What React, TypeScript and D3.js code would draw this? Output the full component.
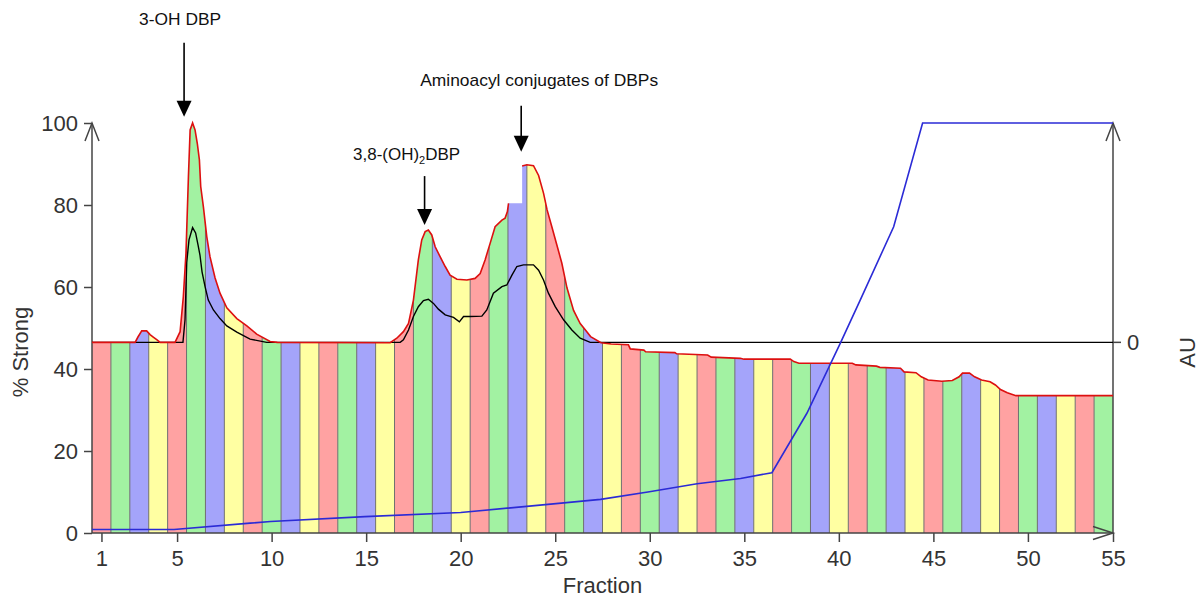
import { useEffect, useRef } from 'react';
import * as d3 from 'd3';

type Pt = [number, number];

// fraction numbers, one coloured band each
const fractions = [
  1, 2, 3, 4, 5, 6, 7, 8, 9, 10, 11, 12, 13, 14, 15, 16, 17, 18, 19, 20, 21, 22, 23, 24, 25, 26, 27,
  28, 29, 30, 31, 32, 33, 34, 35, 36, 37, 38, 39, 40, 41, 42, 43, 44, 45, 46, 47, 48, 49, 50, 51, 52, 53, 54,
];
const bandColors = ['#ffa2a2', '#a2f2a2', '#a4a4fa', '#ffffa2'];

const xTickValues = [1, 5, 10, 15, 20, 25, 30, 35, 40, 45, 50];
const xEndLabel = '55';
const yTickValues = [0, 20, 40, 60, 80, 100];
const auZeroLabel = '0';

// UV trace (red), [fraction, value on the left scale]; broken at the top of fraction 23
const uvRise: Pt[] = [
  [0.5, 46.5], [2.78, 46.5], [2.93, 47.8], [3.13, 49.3], [3.39, 49.3], [3.57, 48.4], [3.74, 47.8],
  [3.94, 47.1], [4.1, 46.5], [4.89, 46.5], [5.16, 49.1], [5.33, 57.6], [5.47, 68.2], [5.6, 86.9],
  [5.69, 98.3], [5.82, 100], [5.95, 98.3], [6.07, 95.0], [6.18, 91.0], [6.25, 84.5], [6.39, 79.6],
  [6.57, 72.3], [6.74, 67.4], [7.01, 62.2], [7.27, 58.5], [7.63, 54.9], [8.16, 52.3], [8.69, 50.5],
  [9.21, 48.5], [9.92, 46.7], [10.3, 46.5], [16.27, 46.4], [16.62, 47.5], [16.97, 49.1], [17.24, 51.1],
  [17.5, 56.8], [17.76, 66.6], [17.94, 71.5], [18.12, 73.5], [18.29, 73.9], [18.47, 72.7], [18.65, 69.8],
  [18.91, 67.4], [19.18, 65.0], [19.44, 62.9], [19.8, 61.9], [20.33, 61.7], [20.76, 62.1], [21.03, 63.3],
  [21.29, 66.6], [21.56, 70.7], [21.82, 74.7], [22.18, 76.3], [22.35, 76.8], [22.47, 78.4], [22.53, 80.4],
];
const uvFall: Pt[] = [
  [23.25, 89.5], [23.5, 89.8], [23.85, 89.6], [24.12, 87.2], [24.38, 82.9], [24.57, 78.8], [24.82, 74.7],
  [25.09, 70.2], [25.35, 65.8], [25.62, 59.8], [25.97, 54.3], [26.32, 51.1], [26.67, 49.1], [26.87, 47.9],
  [27.42, 46.4], [27.96, 46.1], [28.87, 45.9], [28.97, 44.9], [29.69, 44.6], [29.78, 44.2], [31.33, 44.0],
  [31.42, 43.7], [33.06, 43.4], [33.25, 42.9], [34.79, 42.6], [34.98, 42.4], [37.43, 42.4], [37.62, 41.8],
  [37.89, 41.4], [40.71, 41.4], [40.9, 41.0], [41.99, 40.7], [42.17, 40.4], [43.26, 40.2], [43.45, 39.3],
  [44.08, 39.1], [44.36, 38.1], [44.72, 37.3], [45.45, 37.0], [46.0, 37.2], [46.36, 38.1], [46.54, 39.0],
  [46.91, 39.0], [47.18, 38.1], [47.55, 37.3], [48.0, 36.9], [48.28, 36.1], [48.55, 35.0], [48.91, 34.2],
  [49.37, 33.5], [54.5, 33.5],
];

// second detector trace (black); its flat part is the 0 AU line
const secondTrace: Pt[] = [
  [0.5, 46.5], [5.31, 46.5], [5.42, 52], [5.51, 66], [5.63, 71.5], [5.82, 74.5], [5.98, 73.2], [6.11, 70.2],
  [6.21, 67.8], [6.32, 63.7], [6.48, 60.1], [6.65, 56.8], [6.92, 54.4], [7.27, 52.3], [7.63, 50.5],
  [8.16, 49.0], [8.86, 47.3], [9.74, 46.5], [16.8, 46.5], [16.97, 47.1], [17.24, 49.5], [17.5, 52.8],
  [17.76, 55.2], [18.03, 56.7], [18.29, 57.0], [18.56, 56.0], [18.82, 54.6], [19.18, 53.2], [19.62, 52.6],
  [19.93, 51.5], [20.15, 52.8], [20.5, 52.8], [21.12, 52.9], [21.38, 54.4], [21.73, 58.5], [22.18, 60.1],
  [22.44, 60.5], [22.71, 62.9], [22.97, 65.0], [23.32, 65.4], [23.85, 65.4], [24.12, 64.1], [24.38, 61.7],
  [24.64, 58.5], [25.0, 55.2], [25.44, 52.0], [25.88, 49.5], [26.32, 47.5], [26.85, 46.5], [54.5, 46.5],
];

// buffer gradient (blue), % Strong
const gradient: Pt[] = [
  [0.5, 0.85], [4.84, 0.85], [8.86, 2.4], [9.94, 2.8], [14.93, 4.0], [20.0, 5.0], [24.9, 7.1], [27.4, 8.2],
  [29.9, 10.0], [32.5, 12.0], [34.8, 13.3], [36.46, 14.7], [38.31, 29.2], [40.08, 46.3], [41.13, 56.8],
  [42.9, 74.7], [44.43, 100], [54.5, 100],
];

const annotations = [
  { parts: [['3-OH DBP', false]], fraction: 5.37, tip: 101.5 },
  { parts: [['3,8-(OH)', false], ['2', true], ['DBP', false]], fraction: 18.09, tip: 75.1 },
  { parts: [['Aminoacyl conjugates of DBPs', false]], fraction: 23.2, tip: 93.0 },
];

const yLabel = '% Strong';
const xLabel = 'Fraction';
const auLabel = 'AU';

export default function App() {
  const ref = useRef<SVGSVGElement>(null);

  useEffect(() => {
    const svg = d3.select(ref.current);
    svg.selectAll('*').remove();

    const font = "'Liberation Sans', Arial, sans-serif";
    const axisColor = '#444';
    const textColor = '#333';

    const x = d3.scaleLinear()
      .domain([fractions[0] - 0.5, fractions[fractions.length - 1] + 0.5])
      .range([92, 1113]);
    const y = d3.scaleLinear().domain([0, 100]).range([533, 123]);
    const [x0, x1] = x.range();
    const [yb, yt] = y.range();

    // Coloured fraction bands, clipped to the area under the UV trace
    const last = uvRise[uvRise.length - 1];
    const fillPts: Pt[] = [...uvRise, [uvFall[0][0], last[1]], ...uvFall];
    const area = d3.area<Pt>().x(d => x(d[0])).y0(yb).y1(d => y(d[1]));
    svg.append('defs').append('clipPath').attr('id', 'uv-clip')
      .append('path').attr('d', area(fillPts));

    const bands = svg.append('g').attr('clip-path', 'url(#uv-clip)');
    fractions.forEach((f, i) => {
      bands.append('rect')
        .attr('x', x(f - 0.5)).attr('y', yt)
        .attr('width', x(f + 0.5) - x(f - 0.5)).attr('height', yb - yt)
        .attr('fill', bandColors[i % bandColors.length]);
    });
    fractions.slice(0, -1).forEach(f => {
      bands.append('line')
        .attr('x1', x(f + 0.5)).attr('x2', x(f + 0.5)).attr('y1', yt).attr('y2', yb)
        .attr('stroke', '#6f6f6f').attr('stroke-width', 1);
    });

    // Axes
    const gy = svg.append('g').attr('transform', `translate(${x0},0)`)
      .call(d3.axisLeft(y).tickValues(yTickValues).tickSize(8).tickPadding(6));
    gy.select('.domain').remove();
    gy.selectAll('line').attr('stroke', axisColor).attr('stroke-width', 1.5);
    gy.selectAll('text').attr('font-size', 22).attr('font-family', font).attr('fill', textColor);

    const gx = svg.append('g').attr('transform', `translate(0,${yb})`)
      .call(d3.axisBottom(x).tickValues([...xTickValues, x.domain()[1]]).tickSize(9).tickPadding(8)
        .tickFormat((d, i) => (i === xTickValues.length ? xEndLabel : String(d))));
    gx.select('.domain').remove();
    gx.selectAll('line').attr('stroke', axisColor).attr('stroke-width', 1.5);
    gx.selectAll('text').attr('font-size', 22).attr('font-family', font).attr('fill', textColor);

    const axes = svg.append('g').attr('fill', 'none').attr('stroke', axisColor).attr('stroke-width', 1.5);
    axes.append('line').attr('x1', x0).attr('x2', x0).attr('y1', yb).attr('y2', yt);
    axes.append('line').attr('x1', x1).attr('x2', x1).attr('y1', yb).attr('y2', yt);
    axes.append('line').attr('x1', x0).attr('x2', x1).attr('y1', yb).attr('y2', yb);
    [x0, x1].forEach(ax => {
      axes.append('path').attr('d', `M${ax - 7},${yt + 18}L${ax},${yt}L${ax + 7},${yt + 18}`);
    });
    axes.append('path').attr('d', `M${x1 - 20},${yb - 6.5}L${x1},${yb}L${x1 - 20},${yb + 6.5}`);

    // right AU axis: only the zero tick
    const auZero = y(secondTrace[secondTrace.length - 1][1]);
    axes.append('line').attr('x1', x1).attr('x2', x1 + 8).attr('y1', auZero).attr('y2', auZero);
    svg.append('text').attr('x', x1 + 14).attr('y', auZero).attr('dy', '0.36em')
      .attr('font-size', 22).attr('font-family', font).attr('fill', textColor).text(auZeroLabel);

    // Traces
    const line = d3.line<Pt>().x(d => x(d[0])).y(d => y(d[1]));
    svg.append('path').attr('d', line(secondTrace))
      .attr('fill', 'none').attr('stroke', '#000').attr('stroke-width', 1.4);
    [uvRise, uvFall].forEach(seg => {
      svg.append('path').attr('d', line(seg))
        .attr('fill', 'none').attr('stroke', '#dd1010').attr('stroke-width', 1.6);
    });
    svg.append('path').attr('d', line(gradient))
      .attr('fill', 'none').attr('stroke', '#2b2bd6').attr('stroke-width', 1.6);

    // Peak annotations
    const annLayout = [
      { shaft: 58, gap: 18, dx: -4, width: 82 },
      { shaft: 33, gap: 16, dx: -18, width: 107 },
      { shaft: 30, gap: 20, dx: 18, width: 238 },
    ];
    annotations.forEach((a, i) => {
      const L = annLayout[i];
      const ax = x(a.fraction);
      const tipY = y(a.tip);
      const headTop = tipY - 16;
      const shaftTop = headTop - L.shaft;
      svg.append('line').attr('x1', ax).attr('x2', ax).attr('y1', shaftTop).attr('y2', headTop + 2)
        .attr('stroke', '#000').attr('stroke-width', 1.6);
      svg.append('path').attr('d', `M${ax - 7.5},${headTop}L${ax + 7.5},${headTop}L${ax},${tipY}Z`)
        .attr('fill', '#000');
      const t = svg.append('text').attr('x', ax + L.dx).attr('y', shaftTop - L.gap)
        .attr('text-anchor', 'middle').attr('font-family', font).attr('font-size', 17)
        .attr('fill', '#111').attr('textLength', L.width).attr('lengthAdjust', 'spacingAndGlyphs');
      (a.parts as [string, boolean][]).forEach(([s, sub], j, arr) => {
        const prevSub = j > 0 && arr[j - 1][1];
        const ts = t.append('tspan').text(s);
        if (sub) ts.attr('font-size', 11).attr('dy', 4);
        else if (prevSub) ts.attr('dy', -4);
      });
    });

    // Axis titles
    svg.append('text').attr('transform', 'translate(28,352) rotate(-90)')
      .attr('text-anchor', 'middle').attr('font-family', font).attr('font-size', 22)
      .attr('fill', textColor).text(yLabel);
    svg.append('text').attr('x', (x0 + x1) / 2 + 0).attr('y', 593)
      .attr('text-anchor', 'middle').attr('font-family', font).attr('font-size', 22)
      .attr('fill', textColor).text(xLabel);
    svg.append('text').attr('transform', `translate(1195,${auZero + 10}) rotate(-90)`)
      .attr('text-anchor', 'middle').attr('font-family', font).attr('font-size', 22)
      .attr('fill', textColor).text(auLabel);
  }, []);

  return (
    <svg ref={ref} width={1201} height={600}
      style={{ position: 'absolute', left: 0, top: 0, background: '#fff', display: 'block' }} />
  );
}
